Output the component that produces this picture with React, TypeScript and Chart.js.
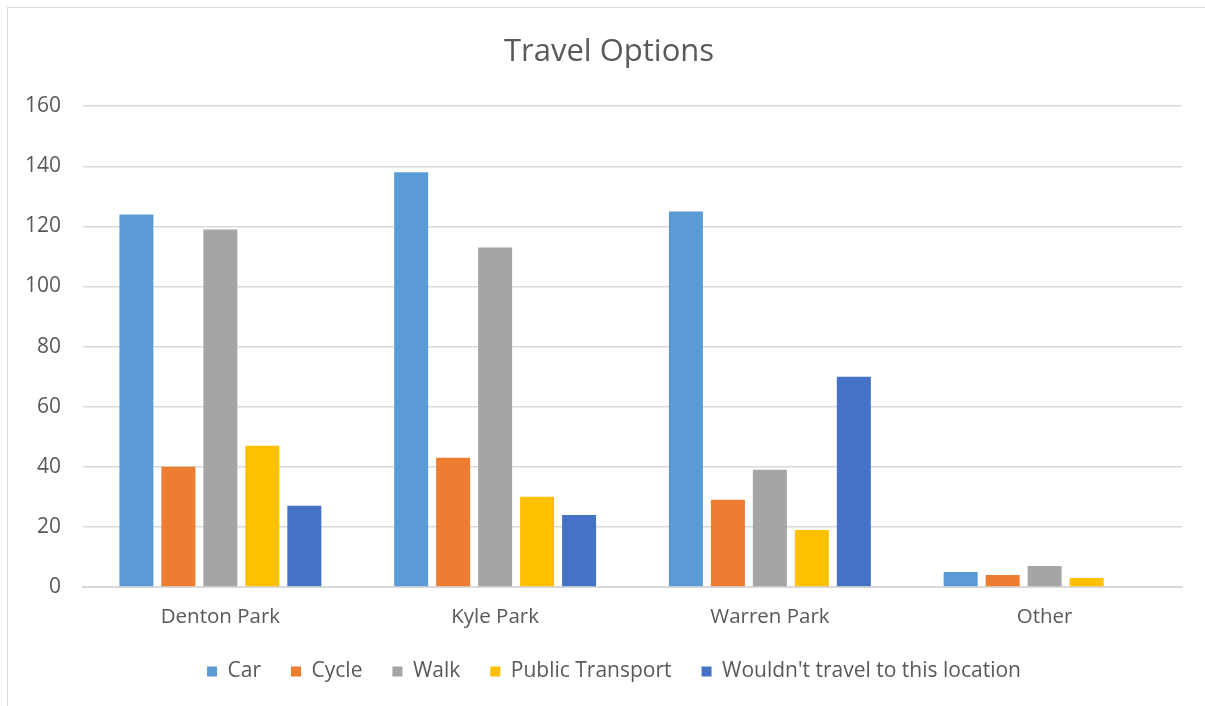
import React, { useEffect, useRef } from "react";
import { Chart, registerables } from "chart.js";

Chart.register(...registerables);

const categories = ["Denton Park", "Kyle Park", "Warren Park", "Other"];
const seriesNames = ["Car", "Cycle", "Walk", "Public Transport", "Wouldn't travel to this location"];
const car = [124, 138, 125, 5];
const cycle = [40, 43, 29, 4];
const walk = [119, 113, 39, 7];
const publicTransport = [47, 30, 19, 3];
const wouldnt = [27, 24, 70, 0];
const seriesColors = ["#5B9BD5", "#ED7D31", "#A5A5A5", "#FFC000", "#4472C4"];
const yTicks = [0, 20, 40, 60, 80, 100, 120, 140, 160];

const FONT = "'Open Sans', 'Noto Sans', sans-serif";
const TEXT = "#595959";

const shiftPlugin = {
  id: "shiftBlocks",
  afterLayout(chart: any) {
    const t = chart.titleBlock;
    if (t) { t.left += 14; t.right += 14; }
    const l = chart.legend;
    if (l) { l.left += 19; l.right += 19; }
  },
};

export default function App() {
  const ref = useRef<HTMLCanvasElement | null>(null);
  useEffect(() => {
    if (!ref.current) return;
    const values = [car, cycle, walk, publicTransport, wouldnt];
    const chart = new Chart(ref.current, {
      type: "bar",
      data: {
        labels: categories,
        datasets: seriesNames.map((n, i) => ({
          label: n,
          data: values[i],
          backgroundColor: seriesColors[i],
          borderWidth: 0,
          categoryPercentage: 0.764,
          barPercentage: 0.81,
        })),
      },
      plugins: [shiftPlugin],
      options: {
        animation: false,
        responsive: false,
        maintainAspectRatio: false,
        layout: { padding: { left: 0, right: 23, top: 0, bottom: 14 } },
        plugins: {
          title: {
            display: true,
            text: "Travel Options",
            color: TEXT,
            font: { family: FONT, size: 31, weight: "normal" },
            padding: { top: 26, bottom: 35 },
          },
          legend: {
            position: "bottom",
            labels: {
              color: TEXT,
              font: { family: FONT, size: 21 },
              boxWidth: 10,
              boxHeight: 10,
              padding: 30,
            },
          },
          tooltip: { enabled: false },
        },
        scales: {
          x: {
            grid: { display: false, drawTicks: false },
            border: { display: true, color: "#D9D9D9", width: 2 },
            ticks: { color: TEXT, font: { family: FONT, size: 20.5 }, padding: 18 },
            afterFit: (s: any) => { s.height = 44; },
          },
          y: {
            min: 0,
            max: 160,
            afterBuildTicks: (s: any) => { s.ticks = yTicks.map((v) => ({ value: v })); },
            grid: { color: "#D9D9D9", lineWidth: 1.5, drawTicks: false },
            border: { display: false },
            ticks: { color: TEXT, font: { family: FONT, size: 21 }, padding: 22 },
            afterFit: (s: any) => { s.width = 75; },
          },
        },
      },
    });
    return () => chart.destroy();
  }, []);
  return (
    <div
      style={{
        position: "absolute",
        left: 7,
        top: 7,
        width: 1198,
        height: 699,
        borderTop: "1px solid #D9D9D9",
        borderLeft: "1px solid #D9D9D9",
        background: "#fff",
      }}
    >
      <canvas ref={ref} width={1197} height={698} style={{ display: "block" }} />
    </div>
  );
}
